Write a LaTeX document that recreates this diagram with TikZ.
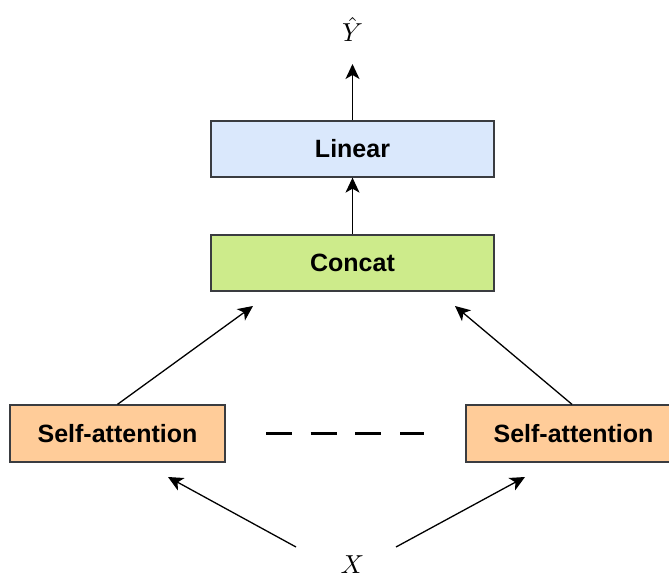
\documentclass[tikz,border=0pt]{standalone}
\usepackage{graphicx}
\usepackage{fontspec}
\setsansfont{Liberation Sans}
\usetikzlibrary{arrows.meta}

\definecolor{boxline}{HTML}{3A3C40}
\definecolor{linfill}{HTML}{DAE8FC}
\definecolor{catfill}{HTML}{CDEB8B}
\definecolor{safill}{HTML}{FFCC99}

\tikzset{
  block/.style={draw=boxline, line width=1.3pt, rectangle, inner sep=0pt,
    font=\sffamily\bfseries\fontsize{25}{30}\selectfont},
  wide/.style={block, minimum width=283pt, minimum height=56pt},
  head/.style={block, minimum width=215pt, minimum height=57pt, fill=safill},
  flow/.style={line width=1.3pt, -{Stealth[length=15pt,width=14pt,inset=4pt]}},
  mathlabel/.style={inner sep=0pt}
}
\newcommand{\bigsym}[1]{\scalebox{2.6}{$#1$}}

\begin{document}
\begin{tikzpicture}[x=1pt,y=-1pt]
  \useasboundingbox (0,0) rectangle (669,575);

  % stacked output layers
  \node[wide, fill=linfill] (lin) at (352.5,149) {Linear};
  \node[wide, fill=catfill] (cat) at (352.5,263) {Concat};

  % attention heads
  \node[head] (sa1) at (117.5,433.5) {Self-attention};
  \node[head] (sa2) at (573.5,433.5) {Self-attention};

  % input and output symbols
  \node[mathlabel, anchor=base] (y) at (352.5,42) {\bigsym{\hat{Y}}};
  \node[mathlabel, anchor=base] (x) at (352.5,573) {\bigsym{X}};

  % free arrow ends
  \coordinate (ytip) at (352.5,64);
  \coordinate (cin1) at (253,306);
  \coordinate (cin2) at (455,306);
  \coordinate (xl) at (296,547);
  \coordinate (xr) at (396,547);
  \coordinate (sin1) at (168,477);
  \coordinate (sin2) at (525,477);
  \coordinate (d1) at (266,433);
  \coordinate (d2) at (424,433);

  \draw[flow] (lin.north) -- (ytip);
  \draw[flow] (cat.north) -- (lin.south);
  \draw[flow] (sa1.north) -- (cin1);
  \draw[flow] (sa2.north -| 572,0) -- (cin2);
  \draw[flow] (xl) -- (sin1);
  \draw[flow] (xr) -- (sin2);

  % elided heads
  \draw[line width=3pt, dash pattern=on 26pt off 18.7pt] (d1) -- (d2);
\end{tikzpicture}
\end{document}
